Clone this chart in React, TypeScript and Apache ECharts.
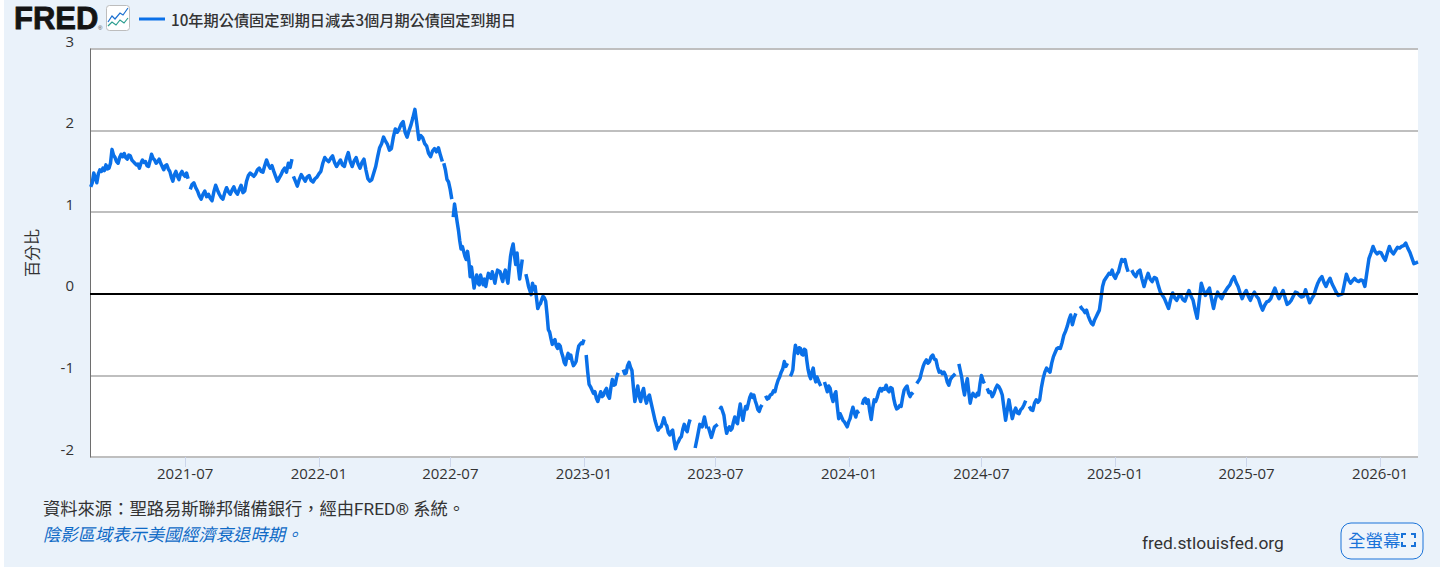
import React, { useEffect, useRef } from "react";
import * as echarts from "echarts";

const yTicks = [-2, -1, 0, 1, 2, 3];
const xTickDates = ["2021-07-01","2022-01-01","2022-07-01","2023-01-01","2023-07-01","2024-01-01","2024-07-01","2025-01-01","2025-07-01","2026-01-01"];
const axisStart = "2021-02-20";
const axisEnd = "2026-02-22";

const seg01 = [1.31,1.36,1.48,1.42,1.36,1.47,1.52,1.50,1.54,1.51,1.58,1.53,1.54,1.60,1.77,1.70,1.67,1.62,1.60,1.67,1.71,1.68,1.72,1.67,1.65,1.70,1.69,1.64,1.62,1.60,1.58,1.59,1.54,1.60,1.64,1.61,1.62,1.57,1.56,1.63,1.71,1.66,1.64,1.60,1.62,1.65,1.60,1.56,1.52,1.57,1.58,1.53,1.50,1.43,1.38,1.46,1.50,1.44,1.40,1.47,1.50,1.46,1.44,1.48,1.41];
const seg02 = [1.28,1.34,1.36,1.30,1.26,1.20,1.16,1.22,1.26,1.19,1.22,1.17,1.14,1.25,1.33,1.27,1.22,1.18,1.16,1.24,1.30,1.25,1.22,1.27,1.31,1.25,1.22,1.28,1.33,1.24,1.26,1.38,1.45,1.48,1.46,1.44,1.47,1.52,1.54,1.50,1.49,1.57,1.64,1.58,1.54,1.57,1.50,1.44,1.38,1.42,1.46,1.51,1.54,1.49,1.60,1.55,1.65];
const seg03 = [1.44,1.38,1.32,1.40,1.46,1.42,1.38,1.43,1.45,1.39,1.37,1.41,1.43,1.47,1.50,1.60,1.67,1.64,1.62,1.66,1.69,1.61,1.56,1.60,1.64,1.58,1.56,1.66,1.73,1.62,1.56,1.63,1.67,1.59,1.54,1.61,1.65,1.52,1.41,1.38,1.40,1.48,1.56,1.68,1.79,1.84,1.92,1.87,1.83,1.76,1.78,1.92,2.02,1.98,2.02,2.08,2.11,1.98,1.92,2.00,2.07,2.16,2.26,2.08,1.89,1.94,1.91,1.84,1.81,1.72,1.68,1.75,1.78,1.74,1.79,1.70,1.62];
const seg04 = [1.60,1.52,1.40,1.37,1.28,1.16];
const seg05 = [0.94,1.10,0.99,0.88,0.78,0.65,0.55,0.58,0.52,0.46,0.42,0.52,0.40,0.21,0.33,0.20,0.07,0.16,0.23,0.13,0.11,0.23,0.16,0.11,0.18,0.09,0.18,0.25,0.21,0.19,0.27,0.20,0.13,0.22,0.29,0.28,0.27,0.20,0.15,0.24,0.29,0.20,0.13,0.30,0.46,0.55,0.61,0.47,0.36,0.50,0.32,0.18,0.30,0.42];
const seg06 = [0.24,0.17,0.09,0.04,-0.01,0.13,0.05,0.09,-0.05,-0.18,-0.14,-0.12,-0.07,-0.03,-0.05,-0.09,-0.25,-0.44,-0.47,-0.55,-0.62,-0.58,-0.56,-0.64,-0.67,-0.62,-0.64,-0.72,-0.77,-0.84,-0.87,-0.78,-0.73,-0.79,-0.75,-0.83,-0.88,-0.86,-0.83,-0.72,-0.64,-0.62,-0.60,-0.61,-0.56];
const seg07 = [-0.75,-0.95,-1.11,-1.14,-1.18,-1.22,-1.20,-1.28,-1.32,-1.26,-1.20,-1.26,-1.24,-1.19,-1.16,-1.25,-1.28,-1.15,-1.05,-1.12,-1.11,-1.02,-0.97];
const seg08 = [-0.93,-0.98,-0.97,-0.88,-0.84,-0.90,-0.94,-1.15,-1.32,-1.22,-1.13,-1.26,-1.32,-1.21,-1.16,-1.28,-1.34,-1.27,-1.24,-1.32,-1.40,-1.48,-1.56,-1.62,-1.67,-1.64,-1.63,-1.58,-1.52,-1.59,-1.62,-1.70,-1.73,-1.69,-1.67,-1.80,-1.90,-1.84,-1.81,-1.77,-1.75,-1.66,-1.60,-1.66,-1.69,-1.60,-1.54];
const seg09 = [-1.89,-1.75,-1.60,-1.63,-1.51,-1.65];
const seg10 = [-1.63,-1.76,-1.63,-1.60];
const seg11 = [-1.42,-1.39,-1.44,-1.49,-1.62,-1.71,-1.66,-1.63,-1.67,-1.65,-1.57,-1.51,-1.57,-1.59,-1.45,-1.35,-1.47,-1.55,-1.45,-1.38,-1.41,-1.34,-1.27,-1.23,-1.27,-1.24,-1.31,-1.36,-1.42,-1.44,-1.39,-1.36];
const seg12 = [-1.25,-1.29,-1.28,-1.24,-1.23,-1.19,-1.20,-1.12,-1.06,-1.02,-0.96,-0.92,-0.83,-0.89,-0.85];
const seg13 = [-1.01,-0.98,-0.93,-0.75,-0.63,-0.70,-0.73,-0.66,-0.67,-0.74,-0.75,-0.68,-0.69,-0.82,-0.93,-1.00,-1.04,-0.96,-0.91,-1.02,-1.08,-1.02,-1.06,-1.10,-1.13];
const seg14 = [-1.08,-1.14,-1.20,-1.13,-1.16,-1.26,-1.32,-1.24,-1.20,-1.38,-1.53,-1.47,-1.51,-1.55,-1.57,-1.60,-1.63,-1.57,-1.53,-1.45,-1.39,-1.46,-1.51,-1.44,-1.47];
const seg15 = [-1.36,-1.30,-1.28,-1.34,-1.30,-1.44,-1.54,-1.40,-1.30,-1.32,-1.27,-1.20,-1.16,-1.19,-1.16,-1.17,-1.12,-1.18,-1.20,-1.15,-1.16,-1.28,-1.36,-1.41,-1.40,-1.37,-1.38,-1.27,-1.18,-1.15,-1.13,-1.22,-1.26,-1.22,-1.24];
const seg16 = [-1.10,-1.07,-1.04,-0.96,-0.89,-0.84,-0.81,-0.85,-0.83,-0.77,-0.75,-0.80,-0.81,-0.90,-0.96,-0.95,-0.98,-0.96,-1.00,-1.08,-1.12,-1.05,-1.02,-1.00,-0.98];
const seg17 = [-0.86,-0.94,-1.02,-1.15,-1.24,-1.12,-1.04,-1.20,-1.34,-1.26,-1.22,-1.25,-1.26,-1.22,-1.24,-1.10,-1.00,-1.06,-1.10];
const seg18 = [-1.16,-1.21,-1.20,-1.26,-1.22,-1.16,-1.12,-1.14,-1.18,-1.24,-1.40,-1.55,-1.42,-1.30,-1.42,-1.53,-1.45,-1.40,-1.46,-1.47,-1.42,-1.40,-1.36,-1.31];
const seg19 = [-1.38,-1.42,-1.43,-1.34,-1.30,-1.33,-1.30,-1.15,-1.04,-0.96,-0.91,-0.94,-0.96,-0.85,-0.77,-0.72,-0.67,-0.66,-0.67,-0.60,-0.51,-0.46,-0.40,-0.32,-0.26,-0.38,-0.30,-0.24];
const seg20 = [-0.15,-0.18,-0.20,-0.23,-0.20,-0.27,-0.32,-0.36,-0.38,-0.32,-0.28,-0.24,-0.20,-0.06,0.09,0.16,0.19,0.22,0.25,0.24,0.29,0.22,0.19,0.24,0.27,0.35,0.42,0.40,0.42,0.33,0.27];
const seg21 = [0.29,0.24,0.21,0.27,0.29,0.18,0.09,0.18,0.25,0.18,0.15,0.20,0.19,0.10,0.02,-0.02,-0.06,-0.12,-0.18,-0.07,0.01,-0.05,-0.08,-0.03,-0.02,-0.07,-0.09,-0.02,0.04,-0.03,-0.08,-0.20,-0.30,-0.08,0.13,0.05,-0.02,0.03,0.07,-0.06,-0.18,-0.06,0.02,-0.03,-0.06,0.00,0.04,0.08,0.11,0.17,0.21,0.14,0.09,0.01,-0.06,0.00,0.04,-0.03,-0.08,-0.02,0.02,-0.03,-0.06,-0.14,-0.20,-0.14,-0.10,-0.09,-0.06,0.01,0.07,0.00,-0.06,-0.01,0.04,-0.05,-0.13,-0.11,-0.08,-0.03,0.02,0.01,-0.02,-0.04,-0.03,0.05,-0.03,-0.11,-0.06,-0.02,0.06,0.13,0.18,0.21,0.14,0.09,0.15,0.19,0.12,0.07,0.02,-0.02,-0.01,0.00,0.12,0.24,0.17,0.13,0.16,0.19,0.16,0.15,0.17,0.16,0.09,0.26,0.43,0.50,0.58,0.52,0.49,0.51,0.50,0.45,0.41,0.50,0.58,0.52,0.49,0.53,0.57,0.56,0.58,0.59,0.62,0.56,0.51,0.44,0.37,0.38,0.39];

const segments = [
  seg01, seg02, seg03, seg04, seg05, seg06, seg07, seg08, seg09, seg10, seg11,
  seg12, seg13, seg14, seg15, seg16, seg17, seg18, seg19, seg20, seg21,
];
const segStart = ["2021-02-21","2021-07-08","2021-11-27","2022-06-22","2022-07-05","2022-10-13","2023-01-04","2023-02-24","2023-06-03","2023-06-21","2023-07-07","2023-09-08","2023-10-12","2023-11-28","2024-01-19","2024-04-03","2024-05-31","2024-07-09","2024-09-05","2024-11-14","2025-01-24"];
const segEnd = ["2021-07-05","2021-11-25","2022-06-20","2022-07-03","2022-10-08","2023-01-01","2023-02-17","2023-05-27","2023-06-19","2023-07-04","2023-09-03","2023-10-08","2023-11-23","2024-01-14","2024-03-29","2024-05-26","2024-07-05","2024-08-31","2024-11-08","2025-01-19","2026-02-22"];

const seriesName = "10年期公債固定到期日減去3個月期公債固定到期日";
const yAxisName = "百分比";
const sourceText = "資料來源：聖路易斯聯邦儲備銀行，經由FRED® 系統。";
const recessionText = "陰影區域表示美國經濟衰退時期。";
const siteText = "fred.stlouisfed.org";
const buttonText = "全螢幕";

const BLUE = "#0A70E8";
const ts = (d: string) => Date.parse(d + "T00:00:00Z");

function buildData() {
  const out: [number, number | null][] = [];
  segments.forEach((vals, s) => {
    const a = ts(segStart[s]);
    const b = ts(segEnd[s]);
    vals.forEach((v, i) => out.push([a + ((b - a) * i) / (vals.length - 1), v]));
    if (s < segments.length - 1) out.push([b + 86400000, null]);
  });
  return out;
}

export default function App() {
  const ref = useRef<HTMLDivElement>(null);
  useEffect(() => {
    const chart = echarts.init(ref.current!, null, { renderer: "svg" });
    const tickVals = xTickDates.map(ts);
    chart.setOption({
      animation: false,
      textStyle: { fontFamily: "Roboto, 'Noto Sans CJK TC', sans-serif" },
      grid: { left: 90, right: 38, top: 49, height: 408, show: true, backgroundColor: "#fff", borderWidth: 0, containLabel: false },
      xAxis: {
        type: "value",
        min: ts(axisStart),
        max: ts(axisEnd),
        axisLine: { show: false, onZero: false },
        splitLine: { show: false },
        axisTick: { show: true, customValues: tickVals, length: 10, lineStyle: { color: "#ccd6eb", width: 1 } },
        axisLabel: {
          show: true,
          customValues: tickVals,
          margin: 8,
          color: "#333",
          fontSize: 15,
          fontFamily: "'Open Sans', sans-serif",
          hideOverlap: false,
          showMinLabel: true,
          showMaxLabel: true,
          formatter: (v: number) => new Date(v).toISOString().slice(0, 7),
        },
      },
      yAxis: {
        type: "value",
        min: yTicks[0],
        max: yTicks[yTicks.length - 1],
        interval: 1,
        name: yAxisName,
        nameLocation: "middle",
        nameGap: 51,
        nameRotate: 90,
        nameTextStyle: { color: "#333", fontSize: 16, fontFamily: "'Noto Sans CJK TC'" },
        axisLine: { show: true, lineStyle: { color: "#6e6e6e", width: 1 } },
        axisTick: { show: false },
        splitLine: { show: true, lineStyle: { color: "#bfbfbf", width: 2 } },
        axisLabel: { margin: 16, color: "#333", fontSize: 15, fontFamily: "'Open Sans', sans-serif", verticalAlign: "bottom", lineHeight: 17 },
      },
      series: [
        {
          name: seriesName,
          type: "line",
          data: buildData(),
          showSymbol: false,
          symbol: "none",
          connectNulls: false,
          lineStyle: { color: BLUE, width: 3.5, join: "round" },
          silent: true,
          markLine: {
            silent: true,
            symbol: "none",
            label: { show: false },
            lineStyle: { color: "#000", width: 2, type: "solid" },
            data: [{ yAxis: 0 }],
          },
        },
      ],
      graphic: [
        { type: "text", x: 14, y: 6, style: { text: "FRED", font: "bold 31px 'Liberation Sans'", lineHeight: 25, fill: "#141414", stroke: "#141414", lineWidth: 0.8 } },
        { type: "text", x: 98, y: 25, style: { text: "®", font: "6px 'Liberation Sans'", fill: "#444" } },
        { type: "rect", shape: { x: 106.5, y: 5.5, width: 23, height: 25, r: 3 }, style: { fill: "#fff", stroke: "#bdbdbd", lineWidth: 1 } },
        { type: "polyline", shape: { points: [[108, 22], [112, 16], [115, 19], [120, 13], [123, 15], [128, 8]] }, style: { fill: "none", stroke: "#1a6fd0", lineWidth: 1.2 } },
        { type: "polyline", shape: { points: [[108, 26], [112, 22], [116, 25], [120, 20], [124, 23], [128, 18]] }, style: { fill: "none", stroke: "#2a9d8f", lineWidth: 1.2 } },
        { type: "line", shape: { x1: 139, y1: 19, x2: 165, y2: 19 }, style: { stroke: BLUE, lineWidth: 3 } },
        { type: "text", x: 171, y: 11, style: { text: seriesName, font: "500 15.2px 'Noto Sans CJK TC'", fill: "#333" } },
        { type: "text", x: 43, y: 500, style: { text: sourceText, font: "17.3px Roboto, 'Noto Sans CJK TC'", fill: "#333" } },
        { type: "text", x: 43, y: 525, style: { text: recessionText, font: "italic 17.3px 'Noto Sans CJK TC'", fill: "#0F6AC6" } },
        { type: "text", x: 1142, y: 534, style: { text: siteText, font: "17.4px Roboto", fill: "#333" } },
        { type: "rect", shape: { x: 1341, y: 523, width: 82, height: 36, r: 10 }, style: { fill: "#eef4fb", stroke: "#1a73d9", lineWidth: 1 } },
        { type: "text", x: 1348, y: 531, style: { text: buttonText, font: "17.5px 'Noto Sans CJK TC'", fill: "#1a73d9" } },
        { type: "polyline", shape: { points: [[1402, 538], [1402, 534], [1406, 534]] }, style: { fill: "none", stroke: "#1a73d9", lineWidth: 2 } },
        { type: "polyline", shape: { points: [[1411, 534], [1415, 534], [1415, 538]] }, style: { fill: "none", stroke: "#1a73d9", lineWidth: 2 } },
        { type: "polyline", shape: { points: [[1402, 542], [1402, 546], [1406, 546]] }, style: { fill: "none", stroke: "#1a73d9", lineWidth: 2 } },
        { type: "polyline", shape: { points: [[1411, 546], [1415, 546], [1415, 542]] }, style: { fill: "none", stroke: "#1a73d9", lineWidth: 2 } },
      ],
    });
    return () => chart.dispose();
  }, []);
  return (
    <div style={{ position: "absolute", left: 0, top: 0, width: 1456, height: 567, background: "#fff", overflow: "hidden" }}>
      <div style={{ position: "absolute", left: 4, top: 0, width: 1436, height: 567, background: "#EAF2FA" }} />
      <div ref={ref} style={{ position: "absolute", left: 0, top: 0, width: 1456, height: 567 }} />
    </div>
  );
}
